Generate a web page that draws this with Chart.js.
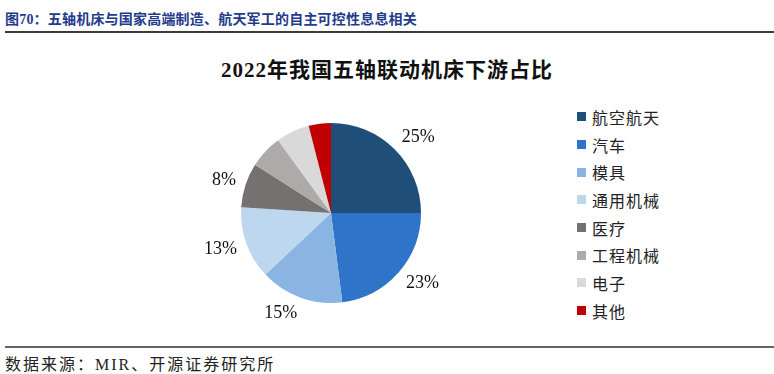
<!DOCTYPE html>
<html><head><meta charset="utf-8">
<script src="https://cdn.jsdelivr.net/npm/chart.js@4/dist/chart.umd.min.js"></script>
<style>
html,body{margin:0;padding:0;background:#fff;}
body{width:774px;height:374px;position:relative;overflow:hidden;font-family:"Liberation Serif","Noto Sans CJK SC",serif;}
#hdr{position:absolute;left:5px;top:8px;font-size:14px;font-weight:700;color:#1F3B8C;white-space:nowrap;letter-spacing:0.2px;}
#hline{position:absolute;left:5px;right:0;top:31px;height:2px;background:#3a3a3a;}
#title{position:absolute;left:0;width:774px;top:53px;text-align:center;font-size:21px;font-weight:700;color:#111;letter-spacing:1px;}
#fline{position:absolute;left:5px;right:0;top:346px;height:1.5px;background:#666;}
#src{position:absolute;left:5px;top:351px;font-size:16px;color:#222;letter-spacing:2px;white-space:nowrap;}
#legend{position:absolute;left:577px;top:103px;}
.li{height:27.7px;display:flex;align-items:center;font-size:16px;color:#222;letter-spacing:1px;white-space:nowrap;}
.sw{width:9px;height:9px;margin-right:6px;flex:none;}
canvas{position:absolute;left:0;top:0;}
</style></head>
<body>
<div id="hdr">图70：五轴机床与国家高端制造、航天军工的自主可控性息息相关</div>
<div id="hline"></div>
<div id="title">2022年我国五轴联动机床下游占比</div>
<div id="legend"></div>
<div id="fline"></div>
<div id="src">数据来源：MIR、开源证券研究所</div>
<canvas id="c" width="774" height="374"></canvas>
<script>
const categories = ["航空航天","汽车","模具","通用机械","医疗","工程机械","电子","其他"];
const shares = [25, 23, 15, 13, 8, 6, 6, 4];
const colors = ["#1F4E79","#2E74C9","#8AB4E1","#BDD7EE","#767171","#AEAAAA","#D9D9D9","#C00000"];
const labelMin = 7;

// HTML legend built from the data
const lg = document.getElementById('legend');
categories.forEach((c,i)=>{
  const d=document.createElement('div');d.className='li';
  const s=document.createElement('span');s.className='sw';s.style.background=colors[i];
  d.appendChild(s);d.appendChild(document.createTextNode(c));lg.appendChild(d);
});

const outLabels = {
  id:'outLabels',
  afterDatasetsDraw(chart){
    const ctx=chart.ctx; const meta=chart.getDatasetMeta(0);
    ctx.save();
    ctx.font='18px "Liberation Serif"';ctx.fillStyle='#111';
    ctx.textAlign='center';ctx.textBaseline='middle';
    meta.data.forEach((arc,i)=>{
      const v=shares[i]; if(v<labelMin) return;
      const p=arc.getProps(['x','y','startAngle','endAngle','outerRadius'],true);
      const a=(p.startAngle+p.endAngle)/2;
      const r=p.outerRadius+10;
      const ax=p.x+Math.cos(a)*r, ay=p.y+Math.sin(a)*r;
      const txt=v+'%';
      const w=ctx.measureText(txt).width, h=14;
      const cx=ax+Math.sign(Math.cos(a))*w/2;
      const cy=ay+Math.sin(a)*h/2;
      ctx.fillText(txt,cx,cy);
    });
    ctx.restore();
  }
};

new Chart(document.getElementById('c'),{
  type:'pie',
  data:{labels:categories,datasets:[{data:shares,backgroundColor:colors,borderWidth:0}]},
  options:{
    responsive:false,animation:false,
    layout:{padding:{left:241,right:353,top:123,bottom:71}},
    plugins:{legend:{display:false},title:{display:false},tooltip:{enabled:false}}
  },
  plugins:[outLabels]
});
</script>
</body></html>
